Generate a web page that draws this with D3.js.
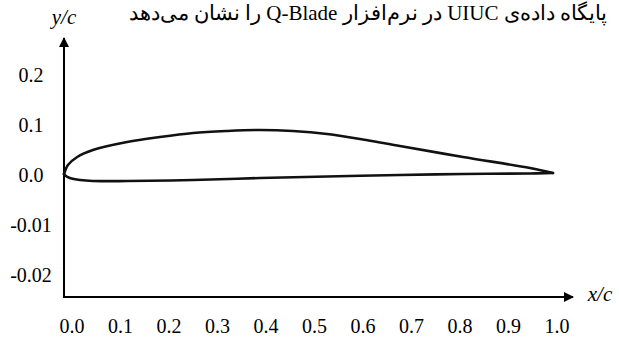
<!DOCTYPE html>
<html>
<head>
<meta charset="utf-8">
<script src="https://cdn.jsdelivr.net/npm/d3@7"></script>
</head>
<body style="margin:0">
<div id="wrap" style="position:relative;width:619px;height:338px;">
  <svg id="chart" width="619" height="338" style="position:absolute;left:0;top:0;"></svg>
  <div id="caption" dir="rtl" lang="fa" style="position:absolute;right:12px;top:1px;white-space:nowrap;font-size:21px;line-height:24px;color:#000;"></div>
</div>
<script>
// Airfoil section coordinates (x/c, y/c), leading edge to trailing edge
const upperX = [0, 0.003, 0.008, 0.027, 0.059, 0.129, 0.196, 0.264, 0.333, 0.401, 0.468, 0.538, 0.618, 0.687, 0.816, 0.953, 1.0];
const upperY = [0, 0.008, 0.018, 0.034, 0.048, 0.064, 0.074, 0.082, 0.086, 0.088, 0.086, 0.080, 0.068, 0.056, 0.034, 0.012, 0.002];
const lowerX = [0, 0.004, 0.012, 0.033, 0.059, 0.129, 0.264, 0.401, 0.538, 0.687, 0.816, 0.953, 1.0];
const lowerY = [0, -0.004, -0.008, -0.012, -0.014, -0.014, -0.012, -0.008, -0.005, -0.002, 0.0, 0.001, 0.002];

// Axis tick positions and their printed labels
const xTicks = [0, 0.1, 0.2, 0.3, 0.4, 0.5, 0.6, 0.7, 0.8, 0.9, 1.0];
const xTickLabels = ["0.0", "0.1", "0.2", "0.3", "0.4", "0.5", "0.6", "0.7", "0.8", "0.9", "1.0"];
const yTicks = [0.2, 0.1, 0, -0.1, -0.2];
const yTickLabels = ["0.2", "0.1", "0.0", "-0.01", "-0.02"];

// Caption (Persian), written with escapes
const titleText = "\u067E\u0627\u06CC\u06AF\u0627\u0647 \u062F\u0627\u062F\u0647\u200C\u06CC UIUC \u062F\u0631 \u0646\u0631\u0645\u200C\u0627\u0641\u0632\u0627\u0631 Q-Blade \u0631\u0627 \u0646\u0634\u0627\u0646 \u0645\u06CC\u200C\u062F\u0647\u062F";

const FONT_STACK = '"Liberation Serif"';

const svg = d3.select("#chart");

const x = d3.scaleLinear().domain([0, 1]).range([64, 553]);
const xLabelScale = d3.scaleLinear().domain([0, 1]).range([72, 557]);
const y = d3.scaleLinear().domain([-0.2, 0.2]).range([274, 74]);

const originX = 64, originY = 297;

function serifText(sel, size) {
  return sel
    .style("font-family", FONT_STACK)
    .style("font-size", size + "px")
    .attr("fill", "#000");
}

// Arrow marker for the axes
svg.append("defs").append("marker")
  .attr("id", "arrow")
  .attr("viewBox", "0 0 10 10")
  .attr("refX", 9).attr("refY", 5)
  .attr("markerWidth", 5).attr("markerHeight", 5)
  .attr("markerUnits", "strokeWidth")
  .attr("orient", "auto")
  .append("path").attr("d", "M0,0 L10,5 L0,10 Z").attr("fill", "#000");

// Axes
svg.append("line")
  .attr("x1", originX).attr("y1", originY)
  .attr("x2", originX).attr("y2", 38)
  .attr("stroke", "#000").attr("stroke-width", 2)
  .attr("marker-end", "url(#arrow)");
svg.append("line")
  .attr("x1", originX - 1).attr("y1", originY)
  .attr("x2", 573).attr("y2", originY)
  .attr("stroke", "#000").attr("stroke-width", 2)
  .attr("marker-end", "url(#arrow)");

// Tick label rows drawn from the tick arrays
svg.append("g").selectAll("text")
  .data(xTicks)
  .join("text")
  .attr("x", d => xLabelScale(d))
  .attr("y", 333)
  .attr("text-anchor", "middle")
  .text((d, i) => xTickLabels[i])
  .call(serifText, 20);

svg.append("g").selectAll("text")
  .data(yTicks)
  .join("text")
  .attr("x", 31)
  .attr("y", d => y(d) + 8)
  .attr("text-anchor", "middle")
  .text((d, i) => yTickLabels[i])
  .call(serifText, 20);

// Axis titles
svg.append("text")
  .attr("x", 64).attr("y", 24)
  .attr("text-anchor", "middle")
  .text("y/c")
  .call(serifText, 21)
  .style("font-style", "italic");
svg.append("text")
  .attr("x", 600).attr("y", 301)
  .attr("text-anchor", "middle")
  .text("x/c")
  .call(serifText, 21)
  .style("font-style", "italic");

// Caption line above the plot
d3.select("#caption")
  .style("font-family", FONT_STACK)
  .text(titleText);

// Airfoil outline
const line = d3.line()
  .x(d => x(d[0]))
  .y(d => y(d[1]))
  .curve(d3.curveCatmullRom.alpha(0.5));

const upper = upperX.map((v, i) => [v, upperY[i]]);
const lower = lowerX.map((v, i) => [v, lowerY[i]]);

[upper, lower].forEach(pts => {
  svg.append("path")
    .datum(pts)
    .attr("d", line)
    .attr("fill", "none")
    .attr("stroke", "#111")
    .attr("stroke-width", 2.6)
    .attr("stroke-linejoin", "round")
    .attr("stroke-linecap", "round");
});
</script>
</body>
</html>
